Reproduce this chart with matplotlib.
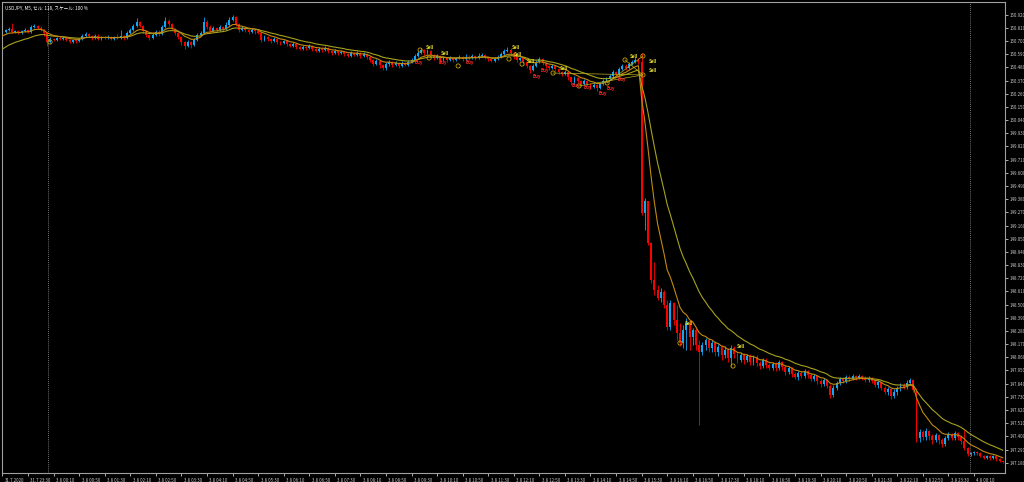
import numpy as np
import matplotlib
matplotlib.use("Agg")
from matplotlib import pyplot as plt
from matplotlib.transforms import ScaledTranslation

plt.rcParams['font.family'] = ['Noto Sans CJK JP', 'DejaVu Sans']

# M5 bars, 31.7 22:50 -> 4.8 00:55 (open of each bar = previous close)
first_open = 150.726
closes = [
    150.776, 150.792, 150.801, 150.776, 150.784, 150.767, 150.784, 150.792, 150.776, 150.817,
    150.826, 150.809, 150.792, 150.767, 150.692, 150.717, 150.709, 150.726, 150.717, 150.726,
    150.709, 150.692, 150.709, 150.700, 150.717, 150.742, 150.759, 150.742, 150.726, 150.742,
    150.717, 150.734, 150.726, 150.734, 150.717, 150.734, 150.726, 150.742, 150.726, 150.767,
    150.792, 150.826, 150.859, 150.826, 150.784, 150.751, 150.726, 150.751, 150.776, 150.759,
    150.817, 150.867, 150.842, 150.801, 150.767, 150.734, 150.692, 150.659, 150.692, 150.667,
    150.709, 150.751, 150.767, 150.859, 150.817, 150.784, 150.809, 150.792, 150.817, 150.801,
    150.834, 150.876, 150.901, 150.842, 150.792, 150.809, 150.792, 150.776, 150.792, 150.784,
    150.767, 150.709, 150.734, 150.717, 150.700, 150.717, 150.692, 150.684, 150.700, 150.675,
    150.659, 150.675, 150.650, 150.634, 150.650, 150.642, 150.659, 150.634, 150.617, 150.634,
    150.625, 150.642, 150.617, 150.600, 150.617, 150.600, 150.609, 150.592, 150.575, 150.600,
    150.584, 150.600, 150.575, 150.592, 150.567, 150.542, 150.508, 150.533, 150.500, 150.475,
    150.508, 150.525, 150.500, 150.517, 150.492, 150.517, 150.500, 150.525, 150.542, 150.575,
    150.600, 150.625, 150.600, 150.617, 150.584, 150.559, 150.575, 150.542, 150.559, 150.542,
    150.559, 150.542, 150.559, 150.567, 150.550, 150.567, 150.559, 150.575, 150.559, 150.575,
    150.584, 150.567, 150.550, 150.533, 150.550, 150.567, 150.592, 150.617, 150.625, 150.600,
    150.567, 150.542, 150.559, 150.525, 150.492, 150.458, 150.492, 150.525, 150.550, 150.517,
    150.492, 150.475, 150.492, 150.467, 150.442, 150.425, 150.442, 150.400, 150.358, 150.392,
    150.367, 150.342, 150.367, 150.342, 150.316, 150.333, 150.308, 150.342, 150.367, 150.383,
    150.408, 150.442, 150.425, 150.467, 150.492, 150.475, 150.508, 150.525, 150.542, 150.525,
    149.265, 149.365, 149.014, 148.705, 148.622, 148.555, 148.605, 148.497, 148.313, 148.513,
    148.371, 148.263, 148.179, 148.288, 148.346, 148.229, 148.288, 148.163, 148.104, 148.163,
    148.204, 148.138, 148.179, 148.104, 148.146, 148.079, 148.121, 148.054, 148.138, 148.088,
    148.037, 148.079, 148.037, 148.071, 148.021, 148.062, 148.012, 147.987, 148.037, 147.996,
    147.971, 148.004, 147.971, 148.021, 147.979, 147.937, 147.971, 147.921, 147.896, 147.929,
    147.904, 147.946, 147.912, 147.879, 147.904, 147.862, 147.837, 147.871, 147.820, 147.745,
    147.804, 147.845, 147.879, 147.862, 147.896, 147.879, 147.904, 147.887, 147.904, 147.887,
    147.871, 147.887, 147.862, 147.829, 147.854, 147.804, 147.770, 147.795, 147.737, 147.770,
    147.804, 147.829, 147.812, 147.845, 147.871, 147.787, 147.386, 147.436, 147.395, 147.445,
    147.403, 147.370, 147.411, 147.370, 147.336, 147.386, 147.420, 147.386, 147.428, 147.395,
    147.361, 147.303, 147.253, 147.261, 147.269, 147.261, 147.236, 147.219, 147.236, 147.219,
    147.236, 147.211, 147.194, 147.186,
]
highs = [
    150.784, 150.801, 150.817, 150.851, 150.792, 150.792, 150.792, 150.809, 150.801, 150.834,
    150.842, 150.834, 150.826, 150.801, 150.776, 150.734, 150.726, 150.734, 150.734, 150.742,
    150.734, 150.717, 150.717, 150.717, 150.726, 150.759, 150.776, 150.767, 150.751, 150.759,
    150.759, 150.742, 150.742, 150.751, 150.742, 150.742, 150.759, 150.792, 150.751, 150.784,
    150.809, 150.842, 150.892, 150.867, 150.834, 150.792, 150.759, 150.767, 150.792, 150.792,
    150.834, 150.901, 150.884, 150.851, 150.809, 150.776, 150.742, 150.700, 150.709, 150.700,
    150.726, 150.767, 150.784, 150.901, 150.876, 150.834, 150.826, 150.817, 150.834, 150.826,
    150.859, 150.901, 150.917, 150.909, 150.851, 150.826, 150.817, 150.801, 150.809, 150.801,
    150.792, 150.784, 150.751, 150.742, 150.726, 150.734, 150.726, 150.700, 150.709, 150.709,
    150.684, 150.692, 150.684, 150.659, 150.667, 150.659, 150.675, 150.667, 150.642, 150.650,
    150.650, 150.659, 150.650, 150.625, 150.634, 150.625, 150.625, 150.617, 150.600, 150.617,
    150.609, 150.617, 150.609, 150.609, 150.600, 150.575, 150.550, 150.550, 150.542, 150.508,
    150.525, 150.542, 150.533, 150.533, 150.525, 150.533, 150.525, 150.542, 150.559, 150.592,
    150.617, 150.642, 150.634, 150.634, 150.625, 150.592, 150.592, 150.584, 150.575, 150.567,
    150.575, 150.567, 150.567, 150.584, 150.575, 150.592, 150.584, 150.592, 150.584, 150.600,
    150.600, 150.592, 150.575, 150.559, 150.567, 150.584, 150.609, 150.634, 150.650, 150.642,
    150.609, 150.575, 150.567, 150.567, 150.533, 150.500, 150.508, 150.542, 150.567, 150.559,
    150.525, 150.500, 150.508, 150.500, 150.475, 150.450, 150.458, 150.450, 150.408, 150.408,
    150.400, 150.375, 150.383, 150.375, 150.350, 150.350, 150.342, 150.358, 150.383, 150.400,
    150.425, 150.458, 150.450, 150.483, 150.508, 150.508, 150.525, 150.542, 150.567, 150.559,
    150.600, 149.390, 149.331, 149.023, 148.856, 148.664, 148.638, 148.622, 148.538, 148.538,
    148.522, 148.497, 148.346, 148.330, 148.388, 148.371, 148.305, 148.305, 148.204, 148.188,
    148.221, 148.221, 148.204, 148.196, 148.171, 148.163, 148.154, 148.138, 148.163, 148.154,
    148.104, 148.104, 148.096, 148.088, 148.088, 148.079, 148.079, 148.029, 148.054, 148.054,
    148.012, 148.021, 148.021, 148.037, 148.029, 147.996, 147.987, 147.979, 147.937, 147.946,
    147.946, 147.962, 147.954, 147.929, 147.921, 147.912, 147.879, 147.887, 147.879, 147.837,
    147.829, 147.862, 147.896, 147.896, 147.912, 147.912, 147.921, 147.912, 147.921, 147.912,
    147.904, 147.904, 147.896, 147.879, 147.871, 147.862, 147.820, 147.812, 147.804, 147.795,
    147.820, 147.845, 147.845, 147.871, 147.887, 147.879, 147.804, 147.461, 147.453, 147.470,
    147.453, 147.420, 147.428, 147.420, 147.386, 147.403, 147.436, 147.428, 147.445, 147.436,
    147.411, 147.453, 147.311, 147.269, 147.278, 147.278, 147.269, 147.244, 147.244, 147.244,
    147.244, 147.236, 147.219, 147.203,
]
lows = [
    150.717, 150.767, 150.784, 150.767, 150.767, 150.759, 150.759, 150.776, 150.767, 150.767,
    150.809, 150.801, 150.784, 150.742, 150.659, 150.684, 150.700, 150.700, 150.709, 150.709,
    150.700, 150.684, 150.684, 150.684, 150.692, 150.709, 150.734, 150.734, 150.709, 150.717,
    150.709, 150.709, 150.717, 150.717, 150.709, 150.709, 150.717, 150.717, 150.709, 150.717,
    150.759, 150.784, 150.817, 150.817, 150.767, 150.734, 150.709, 150.717, 150.742, 150.742,
    150.751, 150.809, 150.826, 150.792, 150.751, 150.717, 150.667, 150.634, 150.650, 150.642,
    150.659, 150.700, 150.742, 150.759, 150.801, 150.767, 150.776, 150.776, 150.784, 150.784,
    150.792, 150.826, 150.867, 150.826, 150.776, 150.784, 150.776, 150.759, 150.767, 150.759,
    150.759, 150.692, 150.700, 150.700, 150.684, 150.692, 150.675, 150.667, 150.675, 150.659,
    150.650, 150.650, 150.634, 150.625, 150.625, 150.625, 150.634, 150.617, 150.609, 150.609,
    150.609, 150.617, 150.600, 150.584, 150.592, 150.584, 150.592, 150.575, 150.567, 150.567,
    150.575, 150.575, 150.559, 150.567, 150.550, 150.525, 150.492, 150.500, 150.475, 150.458,
    150.458, 150.492, 150.483, 150.492, 150.475, 150.483, 150.492, 150.492, 150.517, 150.533,
    150.567, 150.592, 150.584, 150.592, 150.567, 150.542, 150.550, 150.517, 150.533, 150.525,
    150.533, 150.525, 150.533, 150.550, 150.533, 150.542, 150.542, 150.550, 150.542, 150.550,
    150.567, 150.550, 150.533, 150.525, 150.525, 150.542, 150.559, 150.584, 150.609, 150.584,
    150.550, 150.525, 150.533, 150.508, 150.475, 150.433, 150.450, 150.483, 150.517, 150.500,
    150.475, 150.458, 150.467, 150.450, 150.425, 150.408, 150.417, 150.375, 150.333, 150.342,
    150.350, 150.325, 150.333, 150.325, 150.300, 150.308, 150.283, 150.300, 150.333, 150.358,
    150.375, 150.400, 150.408, 150.417, 150.458, 150.458, 150.467, 150.500, 150.517, 150.508,
    149.248, 149.123, 148.997, 148.680, 148.580, 148.538, 148.522, 148.472, 148.288, 148.288,
    148.330, 148.204, 148.154, 148.138, 148.121, 148.121, 148.163, 148.121, 147.495, 148.079,
    148.121, 148.104, 148.104, 148.071, 148.071, 148.037, 148.054, 148.021, 147.987, 148.054,
    148.012, 148.021, 148.004, 148.021, 147.996, 147.996, 147.987, 147.962, 147.971, 147.971,
    147.954, 147.954, 147.946, 147.954, 147.954, 147.912, 147.921, 147.896, 147.879, 147.871,
    147.887, 147.887, 147.887, 147.862, 147.862, 147.837, 147.812, 147.820, 147.804, 147.720,
    147.729, 147.787, 147.829, 147.845, 147.845, 147.862, 147.871, 147.871, 147.879, 147.871,
    147.854, 147.854, 147.845, 147.812, 147.804, 147.787, 147.754, 147.745, 147.712, 147.720,
    147.745, 147.779, 147.795, 147.795, 147.829, 147.770, 147.353, 147.353, 147.370, 147.370,
    147.370, 147.336, 147.353, 147.336, 147.311, 147.319, 147.370, 147.370, 147.370, 147.370,
    147.336, 147.286, 147.236, 147.236, 147.244, 147.244, 147.228, 147.211, 147.211, 147.203,
    147.211, 147.194, 147.186, 147.178,
]
opens = [first_open] + closes[:-1]

# trade marks (bar position, price)
sell_bar = [132.5, 137.2, 159.4, 160.1, 164.1, 174.5, 196.4, 202.3, 202.3, 213.6, 229.8]
sell_price = [150.650, 150.592, 150.650, 150.584, 150.533, 150.467, 150.575,
              150.533, 150.450, 148.346, 148.146]
buy_bar = [129.1, 136.5, 144.8, 166.0, 168.5, 178.2, 181.7, 186.7, 189.2, 192.6]
buy_price = [150.517, 150.517, 150.517, 150.408, 150.458, 150.333, 150.316,
             150.266, 150.308, 150.383]
circ_bar = [14.9, 130.7, 133.5, 142.6, 158.5, 162.6, 172.3, 180.4, 189.2, 194.8,
            200.4, 200.4, 212.0, 228.6]
circ_price = [150.692, 150.625, 150.559, 150.492, 150.550, 150.508, 150.433, 150.325,
              150.350, 150.542, 150.575, 150.417, 148.179, 147.987]
trade_lines = [((172.3, 150.433), (200.4, 150.417)),
               ((180.4, 150.325), (200.4, 150.417)),
               ((189.2, 150.350), (200.4, 150.575)),
               ((194.8, 150.542), (200.4, 150.417))]

xlabels = ["31.7.2020", "31.7 23:30"] + \
    ["3.8 %02d:%02d" % divmod(10 + 40 * k, 60) for k in range(36)] + ["4.8 00:10"]
ylabels = ["%.3f" % v for v in np.arange(147.180, 150.93, 0.110)]

fast_seed, slow_seed = 150.735, 150.617


def ema(vals, n, seed):
    a = 2.0 / (n + 1)
    out, e = [], seed
    for v in vals:
        e = e + a * (v - e)
        out.append(e)
    return out


fig = plt.figure(figsize=(10.24, 4.82), dpi=100, facecolor="black")
ax = fig.add_axes([2 / 1024, 1 - 473 / 482, 1003 / 1024, 471 / 482])
ax.set_facecolor("black")

up_c, dn_c = "#12a6f5", "#ff0000"
n = len(closes)
idx = np.arange(n)
cols = [up_c if closes[i] >= opens[i] else dn_c for i in idx]
ax.vlines(idx, lows, highs, colors=cols, linewidth=0.6, zorder=2)
body_lo = np.minimum(opens, closes)
body_h = np.maximum(np.abs(np.array(closes) - np.array(opens)), 0.003)
ax.bar(idx, body_h, bottom=body_lo, width=0.6, color=cols, linewidth=0, zorder=2)

ax.plot(idx, ema(closes, 18, slow_seed), color="#a6a21c", linewidth=0.8, zorder=3)
ax.plot(idx, ema(closes, 8, fast_seed), color="#c08a10", linewidth=0.8, zorder=3)

for (b0, p0), (b1, p1) in trade_lines:
    ax.plot([b0, b1], [p0, p1], color="#b8b020", linewidth=0.5, zorder=3)
ax.scatter(circ_bar, circ_price, s=9, facecolors="none", edgecolors="#c8a000",
           linewidths=0.6, zorder=4)
for b, p in zip(sell_bar, sell_price):
    ax.text(b, p, "Sell", color="#e8e030", fontsize=3.2, ha="left", va="center",
            fontweight="bold", zorder=5)
for b, p in zip(buy_bar, buy_price):
    ax.text(b, p, "Buy", color="#ff2a2a", fontsize=3.2, ha="left", va="center",
            fontweight="bold", zorder=5)

for sep in (14.3, 302.6):
    ax.axvline(sep, color="#9a9a9a", linestyle=(0, (1, 1.5)), linewidth=0.6)

ax.set_xlim(-0.13, 313.7)
ax.set_ylim(147.094, 151.026)

ax.set_xticks(np.arange(0, 8 * len(xlabels), 8))
ax.set_xticklabels(xlabels)
ax.set_yticks([float(s) for s in ylabels])
ax.set_yticklabels(ylabels)
ax.yaxis.tick_right()
ax.tick_params(colors="#c8c8c8", labelsize=3.2, length=2.2, width=0.6, pad=1.2)
off = ScaledTranslation(2.5 / 100, 0, fig.dpi_scale_trans)
for lab in ax.get_xticklabels():
    lab.set_ha("left")
    lab.set_transform(lab.get_transform() + off)
for sp in ax.spines.values():
    sp.set_color("#a0a0a0")
    sp.set_linewidth(0.8)

ax.text(0.003, 0.992, "USDJPY, M5, セル: 118, スケール: 100 %", transform=ax.transAxes,
        color="white", fontsize=3.3, va="top", ha="left")

fig.savefig("out.png", dpi=100, facecolor="black")
